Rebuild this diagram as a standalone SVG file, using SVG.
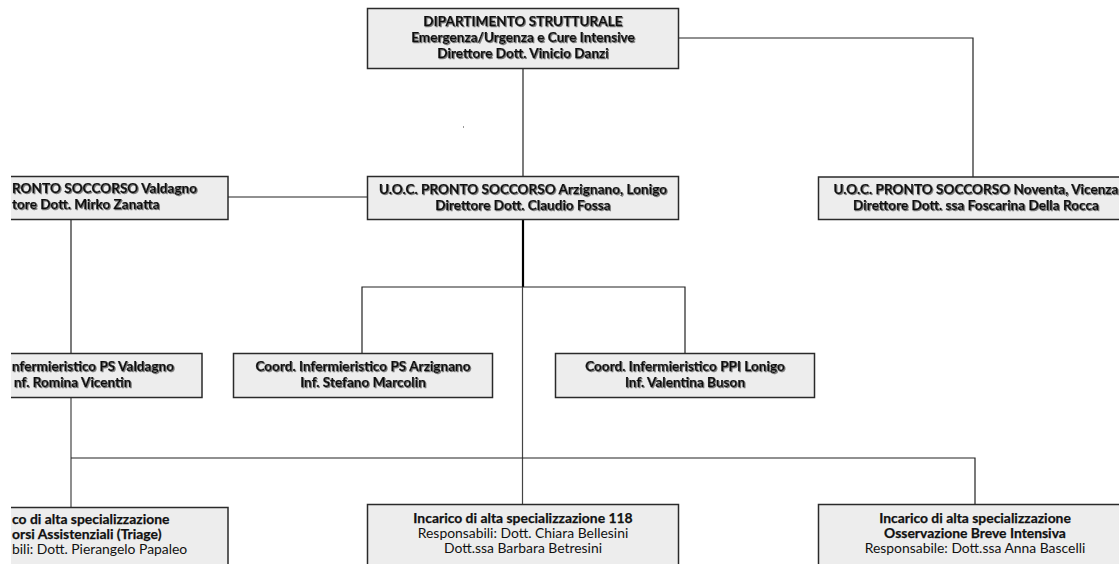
<svg xmlns="http://www.w3.org/2000/svg" width="1119" height="564" viewBox="0 0 1119 564">
  <defs>
    <style>
      .box { fill: #ededed; stroke: #2a2a2a; stroke-width: 1.5; }
      .t { font-family: Lato, "Liberation Sans", sans-serif; font-size: 13.6px; fill: #111; text-anchor: middle; }
      .s { font-size: 13.9px; }
      .b { font-weight: bold; stroke: #111; stroke-width: 0.25; }
      .l { text-anchor: start; }
      .sh { filter: url(#shadow); }
      .wire { fill: none; stroke: #222; stroke-width: 1.2; }
    </style>
    <filter id="shadow" x="-5%" y="-20%" width="110%" height="140%">
      <feDropShadow dx="1" dy="1" stdDeviation="0.5" flood-color="#7a7a7a" flood-opacity="1"/>
    </filter>
    <clipPath id="page">
      <rect x="11" y="0" width="1108" height="564"/>
    </clipPath>
  </defs>
  <rect width="1119" height="564" fill="#ffffff"/>

  <g id="connectors" class="wire">
    <polyline points="678,38 973,38 973,177"/>
    <line x1="523" y1="68" x2="523" y2="176"/>
    <line x1="228" y1="197" x2="367" y2="197"/>
    <line x1="71" y1="219" x2="71" y2="353"/>
    <line x1="523" y1="219" x2="523" y2="287" stroke-width="2.2" stroke="#000"/>
    <polyline points="362,353 362,287 685,287 685,353"/>
    <line x1="522.5" y1="287" x2="522.5" y2="504" stroke="#444"/>
    <line x1="71" y1="397" x2="71" y2="507" stroke="#444"/>
    <polyline points="71,458 975,458 975,504"/>
  </g>

  <rect x="463" y="126" width="1" height="2" fill="#999"/>

  <g clip-path="url(#page)">
    <g id="dipartimento">
      <rect class="box" x="367.5" y="8.5" width="311" height="60"/>
      <text class="t b sh" x="523" y="26">DIPARTIMENTO STRUTTURALE</text>
      <text class="t b sh" x="523" y="42">Emergenza/Urgenza e Cure Intensive</text>
      <text class="t b sh" x="523" y="58">Direttore Dott. Vinicio Danzi</text>
    </g>

    <g id="ps-valdagno">
      <rect class="box" x="-83" y="176.5" width="311" height="43"/>
      <text class="t b sh l" x="12" y="193">RONTO SOCCORSO Valdagno</text>
      <text class="t b sh l" x="12" y="209">tore Dott. Mirko Zanatta</text>
    </g>

    <g id="ps-arzignano">
      <rect class="box" x="367.5" y="176.5" width="311" height="43"/>
      <text class="t b sh" x="523" y="194">U.O.C. PRONTO SOCCORSO Arzignano, Lonigo</text>
      <text class="t b sh" x="523" y="210">Direttore Dott. Claudio Fossa</text>
    </g>

    <g id="ps-noventa">
      <rect class="box" x="818.5" y="177" width="320" height="42.5"/>
      <text class="t b sh" x="976" y="194">U.O.C. PRONTO SOCCORSO Noventa, Vicenza</text>
      <text class="t b sh" x="976" y="210">Direttore Dott. ssa Foscarina Della Rocca</text>
    </g>

    <g id="coord-valdagno">
      <rect class="box" x="-57" y="353.5" width="259" height="44"/>
      <text class="t b sh l" x="12" y="371">nfermieristico PS Valdagno</text>
      <text class="t b sh l" x="14" y="387">nf. Romina Vicentin</text>
    </g>

    <g id="coord-arzignano">
      <rect class="box" x="233.5" y="353.5" width="259" height="44"/>
      <text class="t b sh" x="363" y="371">Coord. Infermieristico PS Arzignano</text>
      <text class="t b sh" x="363" y="387">Inf. Stefano Marcolin</text>
    </g>

    <g id="coord-lonigo">
      <rect class="box" x="555.5" y="353.5" width="259" height="44"/>
      <text class="t b sh" x="685" y="371">Coord. Infermieristico PPI Lonigo</text>
      <text class="t b sh" x="685" y="387">Inf. Valentina Buson</text>
    </g>

    <g id="incarico-triage">
      <rect class="box" x="-83" y="507.5" width="311" height="70"/>
      <text class="t s b l" x="12" y="524">co di alta specializzazione</text>
      <text class="t s b l" x="12" y="539">orsi Assistenziali (Triage)</text>
      <text class="t s l" x="12" y="554">bili: Dott. Pierangelo Papaleo</text>
    </g>

    <g id="incarico-118">
      <rect class="box" x="367.5" y="504.5" width="311" height="70"/>
      <text class="t s b" x="523" y="523">Incarico di alta specializzazione 118</text>
      <text class="t s" x="523" y="538">Responsabili: Dott. Chiara Bellesini</text>
      <text class="t s" x="523" y="553">Dott.ssa Barbara Betresini</text>
    </g>

    <g id="incarico-obi">
      <rect class="box" x="818.5" y="504.5" width="311" height="70"/>
      <text class="t s b" x="975" y="523">Incarico di alta specializzazione</text>
      <text class="t s b" x="975" y="538">Osservazione Breve Intensiva</text>
      <text class="t s" x="975" y="553">Responsabile: Dott.ssa Anna Bascelli</text>
    </g>
  </g>
</svg>
